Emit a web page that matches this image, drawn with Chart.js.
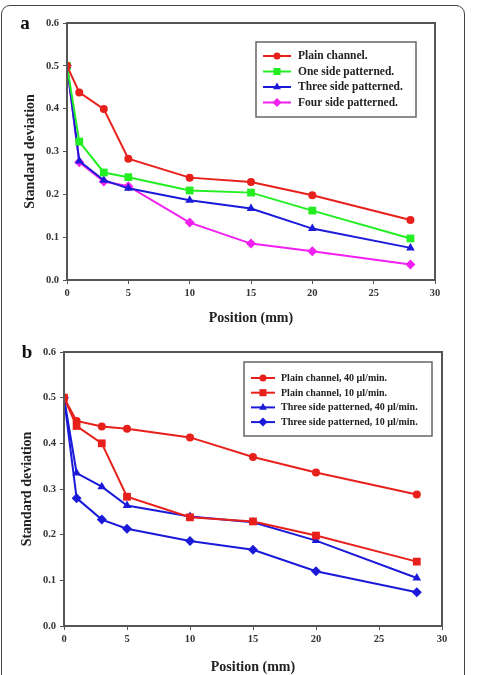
<!DOCTYPE html>
<html>
<head>
  <meta charset="UTF-8">
  <title>Standard deviation vs position</title>
  <style>
    html, body { margin: 0; padding: 0; background: #fff; }
    body { width: 477px; height: 675px; position: relative; overflow: hidden; }
    /* rounded panel frame round both charts */
    .frame {
      position: absolute; left: 1px; top: 5px; width: 464px; height: 700px;
      border: 1px solid #444; border-radius: 9px; box-sizing: border-box;
    }
    .box { position: absolute; left: 0; width: 477px; }
    #boxA { top: 0; height: 330px; }
    #boxB { top: 330px; height: 345px; }
  </style>
</head>
<body>
  <div class="frame"></div>
  <div class="box" id="boxA"><canvas id="chartA" width="477" height="330"></canvas></div>
  <div class="box" id="boxB"><canvas id="chartB" width="477" height="345"></canvas></div>

  <script src="https://cdn.jsdelivr.net/npm/chart.js@4.4.0/dist/chart.umd.min.js"></script>
  <script>
    // x positions (mm), shared by every series
    const positions = [0, 1, 3, 5, 10, 15, 20, 28];

    // panel a
    const labelsA = ['Plain channel.', 'One side patterned.', 'Three side patterned.', 'Four side patterned.'];
    const plainA = [0.5, 0.438, 0.399, 0.283, 0.239, 0.229, 0.198, 0.140];
    const oneSideA = [0.5, 0.323, 0.251, 0.240, 0.209, 0.204, 0.162, 0.097];
    const threeSideA = [0.5, 0.278, 0.233, 0.214, 0.186, 0.167, 0.120, 0.075];
    const fourSideA = [0.5, 0.275, 0.230, 0.219, 0.134, 0.085, 0.067, 0.036];

    // panel b
    const labelsB = ['Plain channel, 40 \u00b5l/min.', 'Plain channel, 10 \u00b5l/min.',
                     'Three side patterned, 40 \u00b5l/min.', 'Three side patterned, 10 \u00b5l/min.'];
    const plain40 = [0.5, 0.449, 0.437, 0.432, 0.413, 0.370, 0.336, 0.288];
    const plain10 = [0.5, 0.438, 0.400, 0.283, 0.238, 0.229, 0.198, 0.141];
    const three40 = [0.5, 0.335, 0.305, 0.264, 0.240, 0.227, 0.187, 0.105];
    const three10 = [0.5, 0.280, 0.233, 0.213, 0.186, 0.167, 0.120, 0.074];

    const yTicks = [0, 0.1, 0.2, 0.3, 0.4, 0.5, 0.6];
    const xTicks = [0, 5, 10, 15, 20, 25, 30];

    const RED = '#e8201c', GREEN = '#22ee22', BLUE = '#1a1ad8', MAGENTA = '#f020f0';
    const SERIF = '"Liberation Serif", "Times New Roman", serif';
    const RADIUS = { circle: 4, rect: 5.5, triangle: 5, rectRot: 5 };

    function series(label, values, color, style) {
      return {
        label: label,
        data: positions.map((x, i) => ({ x: x, y: values[i] })),
        borderColor: color,
        backgroundColor: color,
        borderWidth: 2,
        pointStyle: style,
        pointRadius: RADIUS[style],
        pointBorderWidth: 0,
        tension: 0
      };
    }

    // frame around the plot area, axis titles, panel letter and boxed legend
    const decor = {
      id: 'decor',
      afterDraw(chart, args, o) {
        const ctx = chart.ctx, a = chart.chartArea;
        ctx.save();
        ctx.strokeStyle = '#555';
        ctx.lineWidth = 2;
        ctx.strokeRect(a.left, a.top, a.right - a.left, a.bottom - a.top);

        ctx.fillStyle = '#222';
        ctx.textAlign = 'center';
        ctx.textBaseline = 'middle';
        ctx.font = 'bold 14px ' + SERIF;
        ctx.fillText('Position (mm)', (a.left + a.right) / 2, o.xTitleY);
        ctx.save();
        ctx.translate(o.yTitleX, (a.top + a.bottom) / 2);
        ctx.rotate(-Math.PI / 2);
        ctx.fillText('Standard deviation', 0, 0);
        ctx.restore();

        ctx.font = 'bold 19px ' + SERIF;
        ctx.fillStyle = '#111';
        ctx.fillText(o.letter, o.letterX, a.top + 1);

        // legend box
        const L = o.legend;
        ctx.fillStyle = '#fff';
        ctx.fillRect(L.x, L.y, L.w, L.h);
        ctx.strokeStyle = '#666';
        ctx.lineWidth = 1.5;
        ctx.strokeRect(L.x, L.y, L.w, L.h);
        ctx.font = 'bold ' + L.font + 'px ' + SERIF;
        ctx.textAlign = 'left';
        chart.data.datasets.forEach((ds, i) => {
          const y = L.y + L.first + i * L.step;
          ctx.strokeStyle = ds.borderColor;
          ctx.lineWidth = 2;
          ctx.beginPath();
          ctx.moveTo(L.x + 7, y);
          ctx.lineTo(L.x + 7 + L.line, y);
          ctx.stroke();
          ctx.fillStyle = ds.backgroundColor;
          Chart.helpers.drawPoint(ctx, {
            pointStyle: ds.pointStyle, radius: ds.pointRadius - 0.5, rotation: 0, borderWidth: 0
          }, L.x + 7 + L.line / 2, y);
          ctx.fillStyle = '#222';
          ctx.fillText(ds.label, L.x + L.textX, y + 0.5);
        });
        ctx.restore();
      }
    };

    function makeChart(id, datasets, area, canvasH, opts) {
      return new Chart(document.getElementById(id), {
        type: 'line',
        data: { datasets: datasets },
        plugins: [decor],
        options: {
          responsive: false,
          animation: false,
          layout: { padding: { top: area.top, right: 477 - area.right, left: 0, bottom: 0 } },
          plugins: { legend: { display: false }, tooltip: { enabled: false }, decor: opts },
          scales: {
            x: {
              type: 'linear', min: 0, max: 30,
              afterFit(s) { s.height = canvasH - area.bottom; },
              afterBuildTicks(s) { s.ticks = xTicks.map(v => ({ value: v })); },
              grid: { drawOnChartArea: false, drawTicks: true, tickLength: 4, color: '#555', lineWidth: 1 },
              border: { display: false },
              ticks: { padding: 3, color: '#333', font: { family: SERIF, size: 10.5, weight: 'bold' } }
            },
            y: {
              min: 0, max: 0.6,
              afterFit(s) { s.width = area.left; },
              afterBuildTicks(s) { s.ticks = yTicks.map(v => ({ value: v })); },
              grid: { drawOnChartArea: false, drawTicks: true, tickLength: 4, color: '#555', lineWidth: 1 },
              border: { display: false },
              ticks: {
                padding: 4, color: '#333', font: { family: SERIF, size: 10.5, weight: 'bold' },
                callback: v => v.toFixed(1)
              }
            }
          }
        }
      });
    }

    makeChart('chartA', [
      series(labelsA[0], plainA, RED, 'circle'),
      series(labelsA[1], oneSideA, GREEN, 'rect'),
      series(labelsA[2], threeSideA, BLUE, 'triangle'),
      series(labelsA[3], fourSideA, MAGENTA, 'rectRot')
    ], { left: 67, right: 435, top: 23, bottom: 280 }, 330, {
      letter: 'a', letterX: 25, xTitleY: 318, yTitleX: 30,
      legend: { x: 256, y: 42, w: 160, h: 75, first: 14, step: 15.5, line: 28, textX: 42, font: 11.5 }
    });

    makeChart('chartB', [
      series(labelsB[0], plain40, RED, 'circle'),
      series(labelsB[1], plain10, RED, 'rect'),
      series(labelsB[2], three40, BLUE, 'triangle'),
      series(labelsB[3], three10, BLUE, 'rectRot')
    ], { left: 64, right: 442, top: 22, bottom: 296 }, 345, {
      letter: 'b', letterX: 27, xTitleY: 337, yTitleX: 27,
      legend: { x: 244, y: 32, w: 188, h: 74, first: 16, step: 14.7, line: 24, textX: 37, font: 10 }
    });
  </script>
</body>
</html>
